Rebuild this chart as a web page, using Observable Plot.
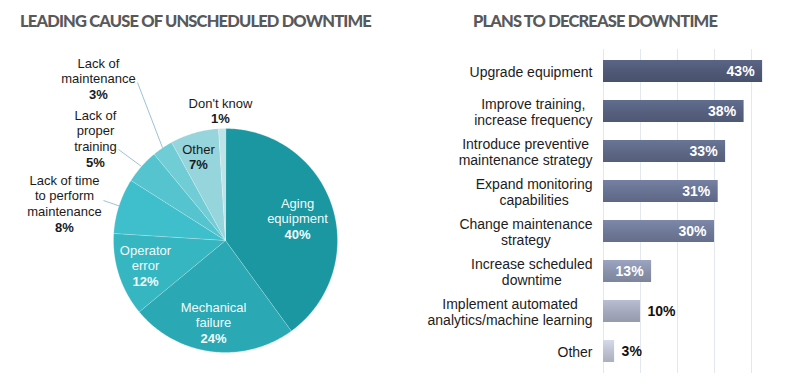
<!DOCTYPE html>
<html><head><meta charset="utf-8">
<script src="https://cdn.jsdelivr.net/npm/d3@7"></script>
<script src="https://cdn.jsdelivr.net/npm/@observablehq/plot@0.6"></script>
<style>
body{margin:0;background:#fff;}
#wrap{position:relative;width:797px;height:384px;overflow:hidden;background:#fff;}
.title{position:absolute;top:10px;font-family:Lato,Inter,sans-serif;font-weight:900;font-size:16.5px;color:#58595b;white-space:nowrap;line-height:22px;}
#pie{position:absolute;left:0;top:0}
#bars{position:absolute;left:400px;top:0}
</style></head><body>
<div id="wrap"><div id="pie"></div><div id="bars"></div>
<div class="title" id="t1" style="left:20px">LEADING CAUSE OF UNSCHEDULED DOWNTIME</div>
<div class="title" id="t2" style="left:473px">PLANS TO DECREASE DOWNTIME</div></div>
<svg width="0" height="0" style="position:absolute"><defs id="grads"></defs></svg>
<script>
// ---- data ----
const causes = ["Aging equipment","Mechanical failure","Operator error","Lack of time to perform maintenance","Lack of proper training","Lack of maintenance","Other","Don't know"];
const causeValues = [40,24,12,8,5,3,7,1];
const causeLines = [["Aging","equipment"],["Mechanical","failure"],["Operator","error"],["Lack of time","to perform","maintenance"],["Lack of","proper","training"],["Lack of","maintenance"],["Other"],["Don't know"]];

const plans = ["Upgrade equipment","Improve training, increase frequency","Introduce preventive maintenance strategy","Expand monitoring capabilities","Change maintenance strategy","Increase scheduled downtime","Implement automated analytics/machine learning","Other"];
const planValues = [43,38,33,31,30,13,10,3];
const planLines = [["Upgrade equipment"],["Improve training,","increase frequency"],["Introduce preventive","maintenance strategy"],["Expand monitoring","capabilities"],["Change maintenance","strategy"],["Increase scheduled","downtime"],["Implement automated","analytics/machine learning"],["Other"]];

// ---- styles / layout ----
const pieColors = ["#1a97a1","#2aa8b3","#35b6c1","#3fbecb","#55c4ce","#70ccd5","#96d5dc","#bfe4e8"];
const pieTextColors = ["#f2fafb","#f2fafb","#f2fafb","#1a1a1a","#1a1a1a","#1a1a1a","#1a1a1a","#1a1a1a"];
const pieLabelPos = [[297,203],[213,307],[145,250],[64,180],[95,115],[98,63],[198,149],[220,103]];
const leaderStart = {3:[103,200],4:[118,149],5:[137,82]};
const planColors = ["#4f5976","#56607e","#5d6785","#677191","#6e7897","#8991aa","#a3a8bc","#bcc0cf"];
const cx = 225, cy = 240, R = 112, lineStep = 15.7;
const FONT = "Liberation Sans, Arial, sans-serif";

// gradients for bars (lighter top, darker bottom)
const defs = document.getElementById("grads");
planColors.forEach((c,i)=>{
  const top = d3.color(c).brighter(0.35).formatHex(), bot = d3.color(c).darker(0.25).formatHex();
  defs.insertAdjacentHTML("beforeend",
    `<linearGradient id="bg${i}" x1="0" y1="0" x2="0" y2="1"><stop offset="0" stop-color="${top}"/><stop offset="0.55" stop-color="${c}"/><stop offset="1" stop-color="${bot}"/></linearGradient>`);
});

// ---- pie ----
const causeData = causes.map((c,i)=>({name:c, value:causeValues[i], i}));
const arcs = d3.pie().sort(null).value(d=>d.value)(causeData);
const pt = (a, r) => [cx + r*Math.sin(a), cy - r*Math.cos(a)];
const polys = arcs.flatMap(a => {
  const pts = [{name:a.data.name, fill:pieColors[a.data.i], x:cx, y:cy}];
  const n = Math.max(2, Math.ceil((a.endAngle-a.startAngle)/0.01));
  for (let k=0;k<=n;k++){
    const ang = a.startAngle + (a.endAngle-a.startAngle)*k/n;
    const [x,y] = pt(ang, R);
    pts.push({name:a.data.name, fill:pieColors[a.data.i], x, y});
  }
  return pts;
});
const pieText = [];
arcs.forEach(a => {
  const i = a.data.i; const [lx,ly] = pieLabelPos[i];
  causeLines[i].forEach((t,k)=>pieText.push({t, x:lx, y:ly+k*lineStep, fill:pieTextColors[i], bold:false}));
  pieText.push({t:a.data.value+"%", x:lx, y:ly+causeLines[i].length*lineStep, fill:pieTextColors[i], bold:true});
});
const leaders = arcs.filter(a=>leaderStart[a.data.i]).map(a=>{
  const mid=(a.startAngle+a.endAngle)/2; const [x2,y2]=pt(mid,R); const [x1,y1]=leaderStart[a.data.i];
  return {x1,y1,x2,y2};
});

const pie = Plot.plot({
  width:400, height:384, margin:0,
  x:{domain:[0,400], range:[0,400], axis:null},
  y:{domain:[0,384], range:[0,384], axis:null},
  color:{type:"identity"},
  style:{fontFamily:FONT, background:"transparent"},
  marks:[
    Plot.line(polys, {x:"x", y:"y", z:"name", fill:"fill", stroke:"#ffffff", strokeOpacity:0.3, strokeWidth:0.8, curve:"linear-closed"}),
    Plot.link(leaders, {x1:"x1", y1:"y1", x2:"x2", y2:"y2", stroke:"#9cc3d6", strokeWidth:1}),
    Plot.text(pieText.filter(d=>!d.bold), {x:"x", y:"y", text:"t", fill:"fill", fontSize:13, textAnchor:"middle"}),
    Plot.text(pieText.filter(d=>d.bold), {x:"x", y:"y", text:"t", fill:"fill", fontSize:13, fontWeight:"bold", textAnchor:"middle"})
  ]
});
document.getElementById("pie").append(pie);

// ---- bars ----
const planData = plans.map((p,i)=>({plan:p, value:planValues[i], color:`url(#bg${i})`, lines:planLines[i]}));
const ctx = document.createElement("canvas").getContext("2d");
ctx.font = "14px " + FONT;
const labelMarks = planData.map(d => {
  const w = Math.max(...d.lines.map(l=>ctx.measureText(l).width));
  return Plot.text([d], {x:0, y:"plan", text:d=>d.lines.join("\n"), textAnchor:"middle", dx:-(11 + w/2), lineHeight:1.15, fontSize:14, fill:"#1c1c1c"});
});
const bars = Plot.plot({
  width:397, height:384, marginLeft:203, marginRight:27.5, marginTop:49, marginBottom:11,
  x:{domain:[0,45], axis:null},
  y:{domain:plans, axis:null, paddingInner:0.46, paddingOuter:0.22},
  color:{type:"identity"},
  style:{fontFamily:FONT, background:"transparent"},
  marks:[
    Plot.ruleX([0,10,20,30,40], {stroke:"#e3e7ee", strokeWidth:1}),
    Plot.barX(planData, {x:"value", y:"plan", fill:"color"}),
    Plot.text(planData.filter(d=>d.value>=13), {x:"value", y:"plan", text:d=>d.value+"%", textAnchor:"end", dx:-8, fill:"#ffffff", fontSize:14, fontWeight:"bold"}),
    Plot.text(planData.filter(d=>d.value<13), {x:"value", y:"plan", text:d=>d.value+"%", textAnchor:"start", dx:7, fill:"#111111", fontSize:14, fontWeight:"bold"}),
    ...labelMarks
  ]
});
document.getElementById("bars").append(bars);

// fit titles to their widths
[["t1",351],["t2",244]].forEach(([id,target])=>{
  const el=document.getElementById(id); const w=el.getBoundingClientRect().width;
  const n=el.textContent.length; el.style.letterSpacing=((target-w)/n).toFixed(2)+"px";
});
</script>
</body></html>
